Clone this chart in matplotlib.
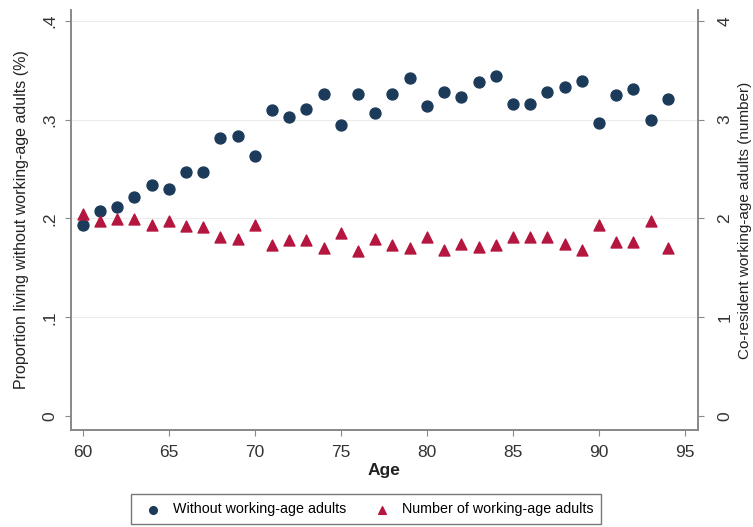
import numpy as np
import matplotlib.pyplot as plt

plt.rcParams['font.family'] = ['Liberation Sans', 'DejaVu Sans']

ages = np.arange(60, 95)

# share of older people living without working-age adults
share_without = [0.193, 0.208, 0.212, 0.222, 0.234, 0.230, 0.247, 0.247, 0.281, 0.283,
                 0.263, 0.310, 0.303, 0.311, 0.326, 0.295, 0.326, 0.307, 0.326, 0.342,
                 0.314, 0.328, 0.323, 0.338, 0.344, 0.316, 0.316, 0.328, 0.333, 0.339,
                 0.297, 0.325, 0.331, 0.300, 0.321]

# mean number of co-resident working-age adults
n_working_age = [2.04, 1.97, 1.99, 1.99, 1.93, 1.97, 1.92, 1.91, 1.81, 1.79,
                 1.93, 1.73, 1.78, 1.78, 1.70, 1.85, 1.67, 1.79, 1.73, 1.70,
                 1.81, 1.68, 1.74, 1.71, 1.73, 1.81, 1.81, 1.81, 1.74, 1.68,
                 1.93, 1.76, 1.76, 1.97, 1.70]

left_ticks = [0, 0.1, 0.2, 0.3, 0.4]
left_labels = ['0', '.1', '.2', '.3', '.4']
right_ticks = [0, 1, 2, 3, 4]
x_ticks = [60, 65, 70, 75, 80, 85, 90, 95]

navy = '#1c3a5a'
crimson = '#b5163f'
axis_grey = '#888888'

fig = plt.figure(figsize=(7.53, 5.27), dpi=100)
ax = fig.add_axes([0.094, 0.184, 0.833, 0.797])
ax2 = ax.twinx()

ax.set_ylim(-0.0142, 0.411)
ax2.set_ylim(-0.142, 4.11)
ax.set_xlim(59.3, 95.76)

ax.set_yticks(left_ticks)
ax.set_yticklabels(left_labels, rotation=90, va='center')
ax2.set_yticks(right_ticks)
ax2.set_yticklabels([str(t) for t in right_ticks], rotation=90, va='center')
ax.set_xticks(x_ticks)

for y in left_ticks[1:]:
    ax.axhline(y, color='#ececec', lw=0.8, zorder=0)

h1 = ax.scatter(ages, share_without, s=62, marker='o', color=navy, zorder=3,
                label='Without working-age adults')
h2 = ax2.scatter(ages, n_working_age, s=62, marker='^', color=crimson, zorder=3,
                 label='Number of working-age adults')

for a in (ax, ax2):
    a.spines['top'].set_visible(False)
    for side in ('left', 'right', 'bottom'):
        a.spines[side].set_color(axis_grey)
        a.spines[side].set_linewidth(1.2)
    a.tick_params(colors=axis_grey, labelcolor='#333333', labelsize=12.5, length=4)
ax.tick_params(axis='x', pad=7)
ax.tick_params(axis='y', pad=6)
ax2.tick_params(axis='y', pad=10)

ax.set_ylabel('Proportion living without working-age adults (%)', fontsize=11.5,
              color='#222222', labelpad=9)
ax2.set_ylabel('Co-resident working-age adults (number)', fontsize=11,
               color='#222222', labelpad=4)
ax.set_xlabel('Age', fontsize=12.5, fontweight='bold', color='#222222', labelpad=2)

leg = fig.legend(handles=[h1, h2], loc='center', bbox_to_anchor=(0.486, 0.0335),
                 ncol=2, frameon=True, fancybox=False, fontsize=10.3, handletextpad=0.4,
                 columnspacing=1.5, borderpad=0.55, scatterpoints=1, markerscale=0.7)
leg.get_frame().set_edgecolor('#555555')
leg.get_frame().set_linewidth(1.0)

fig.savefig('out.png', dpi=100)
